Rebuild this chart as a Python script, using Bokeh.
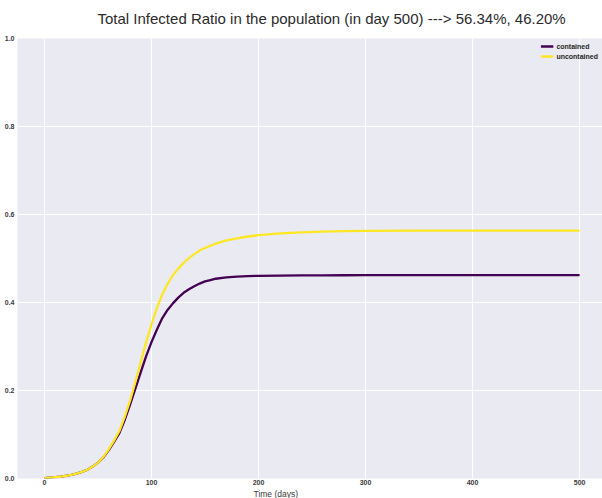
from bokeh.plotting import figure
from bokeh.models import Legend, LegendItem, FixedTicker, Title, NumeralTickFormatter
from bokeh.embed import file_html
from bokeh.resources import INLINE

days = [0, 5, 10, 15, 20, 25, 30, 35, 40, 45, 50, 55, 60, 65, 70, 75, 80, 85, 90, 95,
        100, 105, 110, 115, 120, 125, 130, 135, 140, 145, 150, 155, 160, 170, 180, 190,
        200, 220, 240, 260, 280, 300, 350, 400, 450, 500]
uncontained = [0.001, 0.002, 0.003, 0.004, 0.006, 0.008, 0.011, 0.015, 0.020, 0.027,
               0.036, 0.049, 0.066, 0.086, 0.108, 0.140, 0.177, 0.220, 0.265, 0.310,
               0.350, 0.387, 0.418, 0.442, 0.462, 0.477, 0.490, 0.501, 0.510, 0.518,
               0.524, 0.529, 0.534, 0.541, 0.546, 0.550,
               0.553, 0.557, 0.5595, 0.561, 0.562, 0.5627, 0.5632, 0.5634, 0.5634, 0.5634]
contained = [0.001, 0.002, 0.003, 0.004, 0.006, 0.008, 0.011, 0.015, 0.020, 0.027,
             0.036, 0.048, 0.064, 0.083, 0.103, 0.133, 0.168, 0.205, 0.242, 0.278,
             0.310, 0.338, 0.364, 0.383, 0.398, 0.411, 0.422, 0.430, 0.437, 0.443,
             0.448, 0.451, 0.454, 0.457, 0.459, 0.460,
             0.4607, 0.4613, 0.4616, 0.4618, 0.4619, 0.4620, 0.4620, 0.4620, 0.4620, 0.4620]
x_ticks = [0, 100, 200, 300, 400, 500]
y_ticks = [0.0, 0.2, 0.4, 0.6, 0.8, 1.0]
title_text = "Total Infected Ratio in the population (in day 500) ---> 56.34%, 46.20%"
x_label = "Time (days)"

FONT = "Liberation Sans"

p = figure(width=602, height=498, output_backend="svg", toolbar_location=None,
           x_range=(-25.2, 521.4), y_range=(0, 1),
           min_border_left=17, min_border_right=0, min_border_top=0, min_border_bottom=0)
p.background_fill_color = "#EAEAF2"
p.border_fill_color = "white"
p.outline_line_color = None

p.title.text = title_text
p.title.text_font = FONT
p.title.text_font_size = "15px"
p.title.text_font_style = "normal"
p.title.text_color = "#2b2b2b"
p.title.align = "left"
p.title.vertical_align = "top"
p.title.offset = 80
p.title.standoff = 19

for ax in (p.xaxis[0], p.yaxis[0]):
    ax.axis_line_color = None
    ax.major_tick_line_color = None
    ax.minor_tick_line_color = None
    ax.major_label_text_font = FONT
    ax.major_label_text_font_size = "7px"
    ax.major_label_text_font_style = "bold"
    ax.major_label_text_color = "#3a3a3a"
    ax.major_tick_out = 0
    ax.major_tick_in = 0
    ax.major_label_standoff = 3
p.xaxis[0].major_label_standoff = 1
p.xaxis[0].ticker = FixedTicker(ticks=x_ticks)
p.yaxis[0].ticker = FixedTicker(ticks=y_ticks)
p.yaxis[0].formatter = NumeralTickFormatter(format="0.0")
p.xgrid.ticker = FixedTicker(ticks=x_ticks)
p.ygrid.ticker = FixedTicker(ticks=y_ticks)
p.grid.grid_line_color = "white"
p.grid.grid_line_width = 1

xl = Title(text=x_label, align="left", offset=236, text_font=FONT,
           text_font_size="8.5px", text_font_style="normal", text_color="#3a3a3a",
           standoff=-1)
p.add_layout(xl, "below")

r1 = p.line(days, contained, line_color="#440154", line_width=2.3)
r2 = p.line(days, uncontained, line_color="#FDE725", line_width=2.3)

legend = Legend(items=[LegendItem(label="contained", renderers=[r1]),
                       LegendItem(label="uncontained", renderers=[r2])],
                location="top_right")
legend.label_text_font = FONT
legend.label_text_font_size = "7px"
legend.label_text_font_style = "bold"
legend.label_text_color = "#262626"
legend.background_fill_alpha = 0
legend.border_line_color = None
legend.glyph_width = 13
legend.glyph_height = 8
legend.label_height = 8
legend.spacing = 2
legend.padding = 2
legend.margin = 4
legend.label_standoff = 3
p.add_layout(legend)

open("out.html", "w").write(file_html(p, INLINE))
